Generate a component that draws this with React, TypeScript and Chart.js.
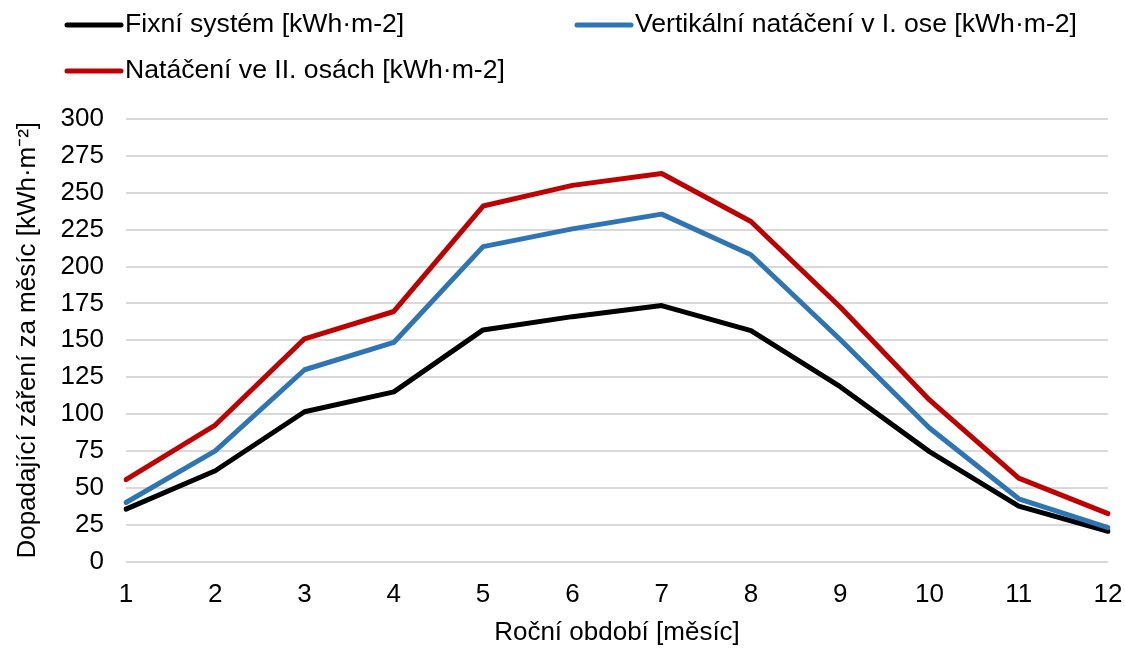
import React, { useEffect, useRef } from "react";
import { Chart, registerables } from "chart.js";

Chart.register(...registerables);

const months = ["1", "2", "3", "4", "5", "6", "7", "8", "9", "10", "11", "12"];
const fixniSystem = [35.5, 61.5, 101.5, 115, 157, 166, 173.5, 156.5, 118.5, 74.5, 37.5, 20.5];
const vertikalniNataceni = [40, 75, 130, 148.5, 213.5, 225.5, 235.5, 208, 150.5, 90.5, 42.5, 23];
const nataceniDveOsy = [55.5, 92.5, 151, 169.5, 241, 255, 263, 230.5, 172.5, 109.5, 56.5, 32.5];

const seriesNames = [
  "Fixní systém [kWh·m-2]",
  "Vertikální natáčení v I. ose [kWh·m-2]",
  "Natáčení ve II. osách [kWh·m-2]",
];
const seriesColors = ["#000000", "#2E75B6", "#C00000"];

const FONT = "'Liberation Sans', Arial, sans-serif";

const legendPlugin = {
  id: "customLegend",
  afterDraw(chart: any) {
    const ctx = chart.ctx;
    const slots = [
      { x: 67, y: 25 },
      { x: 577, y: 25 },
      { x: 67, y: 71 },
    ];
    ctx.save();
    seriesNames.forEach((name, i) => {
      const s = slots[i];
      ctx.strokeStyle = seriesColors[i];
      ctx.lineWidth = 5;
      ctx.lineCap = "round";
      ctx.beginPath();
      ctx.moveTo(s.x, s.y);
      ctx.lineTo(s.x + 54, s.y);
      ctx.stroke();
      ctx.fillStyle = "#000";
      ctx.font = `26.6px ${FONT}`;
      ctx.textBaseline = "middle";
      ctx.textAlign = "left";
      ctx.fillText(name, s.x + 58, s.y);
    });
    ctx.restore();
  },
};

export default function App() {
  const ref = useRef<HTMLCanvasElement>(null);
  useEffect(() => {
    if (!ref.current) return;
    const datasets = [fixniSystem, vertikalniNataceni, nataceniDveOsy].map((d, i) => ({
      label: seriesNames[i],
      data: d,
      borderColor: seriesColors[i],
      backgroundColor: seriesColors[i],
      borderWidth: 5,
      pointRadius: 0,
      tension: 0,
      borderJoinStyle: "round" as const,
      borderCapStyle: "round" as const,
      order: 3 - i,
    }));
    const chart = new Chart(ref.current, {
      type: "line",
      data: { labels: months, datasets },
      options: {
        animation: false,
        responsive: false,
        devicePixelRatio: 1,
        layout: { padding: { top: 119, right: 17, left: 0, bottom: 0 } },
        plugins: { legend: { display: false }, tooltip: { enabled: false } },
        scales: {
          x: {
            offset: false,
            grid: { display: false },
            border: { display: false },
            ticks: {
              color: "#000",
              font: { family: FONT, size: 26 },
              padding: 10,
              maxRotation: 0,
              autoSkip: false,
            },
            title: {
              display: true,
              text: "Roční období [měsíc]",
              color: "#000",
              font: { family: FONT, size: 26 },
              padding: { top: 0, bottom: 4 },
            },
            afterFit: (s: any) => {
              s.height = 90.5;
              s.paddingLeft = 0;
              s.paddingRight = 0;
            },
          },
          y: {
            min: 0,
            max: 300,
            grid: { color: "#D9D9D9", lineWidth: 2, drawTicks: false },
            border: { display: false },
            ticks: {
              stepSize: 25,
              color: "#000",
              font: { family: FONT, size: 26 },
              padding: 22,
            },
            title: {
              display: true,
              text: "Dopadající záření za měsíc [kWh·m⁻²]",
              color: "#000",
              font: { family: FONT, size: 26 },
              padding: { top: 12, bottom: 0 },
            },
            afterFit: (s: any) => {
              s.width = 126;
              s.paddingTop = 0;
              s.paddingBottom = 0;
            },
          },
        },
      },
      plugins: [legendPlugin],
    });
    return () => chart.destroy();
  }, []);
  return (
    <div style={{ position: "fixed", left: 0, top: 0, width: 1125, height: 652, background: "#fff" }}>
      <canvas ref={ref} width={1125} height={652} style={{ display: "block" }} />
    </div>
  );
}
